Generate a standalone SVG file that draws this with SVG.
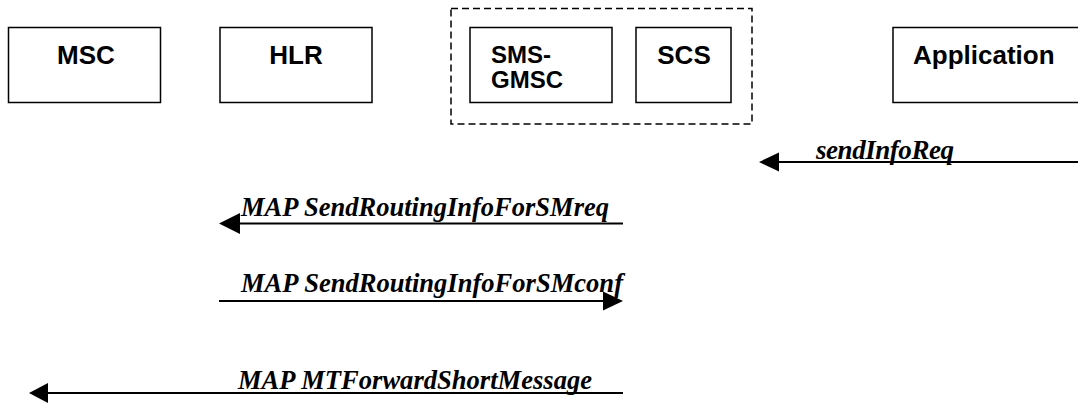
<svg xmlns="http://www.w3.org/2000/svg" width="1078" height="405" viewBox="0 0 1078 405">
<style>
.box{fill:#fff;stroke:#000;stroke-width:1.5}
.bt{font-family:"Liberation Sans",Arial,sans-serif;font-weight:bold;font-size:26px;fill:#000}
.lbl{font-family:"Liberation Serif","Times New Roman",serif;font-weight:bold;font-style:italic;font-size:27px;fill:#000}
.ln{stroke:#000;stroke-width:2;fill:none}
.ah{fill:#000}
</style>
<rect width="1078" height="405" fill="#fff"/>
<g id="group-smsc">
<rect x="451" y="8.5" width="301" height="115.5" fill="none" stroke="#000" stroke-width="1.5" stroke-dasharray="7 4"/>
</g>
<g id="node-msc">
<rect class="box" x="8.5" y="27.5" width="152" height="75"/>
<text class="bt" x="86" y="64" text-anchor="middle">MSC</text>
</g>
<g id="node-hlr">
<rect class="box" x="220" y="27.5" width="152" height="75"/>
<text class="bt" x="296" y="64" text-anchor="middle">HLR</text>
</g>
<g id="node-smsgmsc">
<rect class="box" x="470" y="27.5" width="142" height="75"/>
<text class="bt" x="491" y="63" style="font-size:24px">SMS-</text>
<text class="bt" x="491" y="88" style="font-size:24px">GMSC</text>
</g>
<g id="node-scs">
<rect class="box" x="636" y="27.5" width="95" height="75"/>
<text class="bt" x="684" y="64" text-anchor="middle">SCS</text>
</g>
<g id="node-application">
<rect class="box" x="893" y="27.5" width="200" height="75"/>
<text class="bt" x="913" y="64">Application</text>
</g>
<g id="connectors">
<line class="ln" x1="778" y1="162" x2="1078" y2="162"/>
<polygon class="ah" points="759,162 779,152.5 779,171.5"/>
<text class="lbl" x="816" y="159" textLength="138" lengthAdjust="spacing">sendInfoReq</text>

<line class="ln" x1="238" y1="223.5" x2="623" y2="223.5"/>
<polygon class="ah" points="219,223.5 240,213 240,234"/>
<text class="lbl" x="241" y="216" textLength="368" lengthAdjust="spacingAndGlyphs">MAP SendRoutingInfoForSMreq</text>

<line class="ln" x1="219" y1="301" x2="604" y2="301"/>
<polygon class="ah" points="623,301 603,291.5 603,310.5"/>
<text class="lbl" x="241" y="292" textLength="382" lengthAdjust="spacingAndGlyphs">MAP SendRoutingInfoForSMconf</text>

<line class="ln" x1="47" y1="393" x2="623" y2="393"/>
<polygon class="ah" points="29,393 48,383 48,403"/>
<text class="lbl" x="238" y="389" textLength="354" lengthAdjust="spacingAndGlyphs">MAP MTForwardShortMessage</text>
</g>
</svg>
